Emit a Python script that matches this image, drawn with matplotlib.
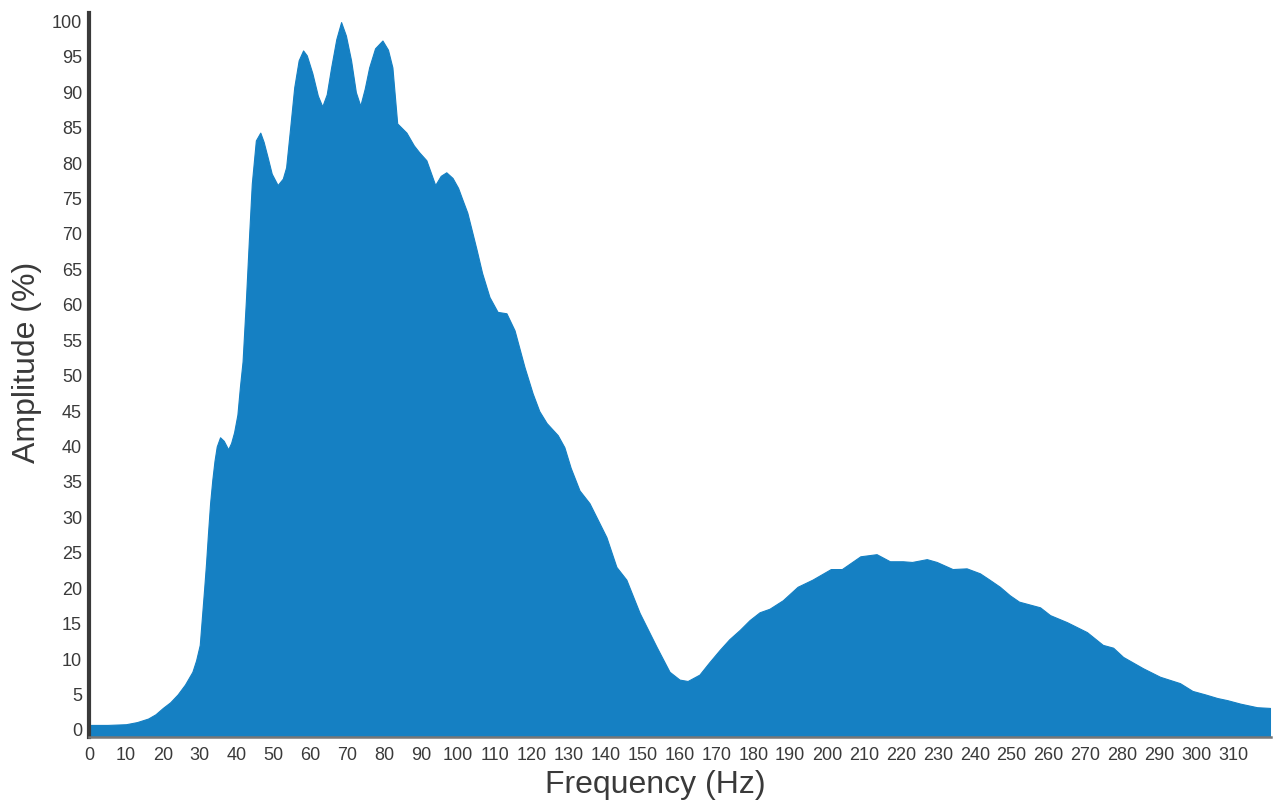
import numpy as np
import matplotlib
matplotlib.use('Agg')
from matplotlib import pyplot as plt

# spectrum (Hz, %)
freq = [0, 5, 10, 13, 16, 18, 20, 22, 24, 26, 28, 29, 30, 30.6, 31.2, 31.7,
        32.2, 32.8, 33.4, 34, 34.6, 35.5, 36.5, 37.7, 38.5, 39.3, 40.2, 40.9,
        41.6, 42.5, 43.4, 44.1, 45.2, 46.4, 47.3, 48.4, 49.5, 51.1, 52.5,
        53.4, 54.5, 55.6, 56.8, 58, 59, 60.5, 62, 63.2, 64.4, 65.6, 67, 68.3,
        69.6, 71, 72.3, 73.5, 74.7, 75.9, 77.5, 79.5, 81, 82.2, 83.5, 86, 88,
        89.5, 91.4, 92.5, 93.8, 95.3, 96.8, 98.5, 100, 101.2, 102.5, 103.9,
        105, 106.5, 108.5, 110.7, 113.1, 115.3, 118, 120.2, 122, 124, 127,
        128.8, 130.5, 132.9, 135.6, 138, 140.2, 142.9, 145.6, 149.2, 153.8,
        157.3, 160, 162.2, 165.4, 168, 170.9, 173.5, 176.3, 179, 181.7, 184.4,
        188, 192, 196, 201, 204, 206.5, 209, 213.4, 217, 220.5, 223, 227,
        229.7, 234, 237.8, 241.4, 244, 246.8, 249.5, 252, 257.7, 260.4, 265,
        270.4, 274.7, 277.5, 280.2, 285.6, 290.2, 295.6, 299, 302.5, 305.7,
        308.4, 312, 316.5, 320]
amp = [0.7, 0.7, 0.8, 1.1, 1.6, 2.2, 3.1, 3.9, 5.0, 6.4, 8.2, 9.8, 12.0, 16,
       20, 23.5, 27.5, 32, 35.3, 38, 40, 41.3, 40.8, 39.6, 40.5, 42, 44.5,
       48.5, 52, 60.6, 70.1, 77.1, 83.2, 84.3, 83, 80.8, 78.5, 76.9, 77.8,
       79.4, 85, 90.7, 94.5, 95.9, 95.2, 92.7, 89.5, 88, 89.7, 93.5, 97.5,
       99.9, 98, 94.5, 90, 88.1, 90.5, 93.5, 96.2, 97.3, 96, 93.5, 85.6, 84.3,
       82.5, 81.5, 80.4, 78.8, 76.9, 78.2, 78.7, 77.9, 76.5, 74.8, 73, 70.1,
       67.8, 64.5, 61.1, 59, 58.8, 56.4, 51.2, 47.5, 45, 43.3, 41.6, 39.9, 37,
       33.8, 32, 29.5, 27.2, 23, 21.2, 16.5, 11.7, 8.2, 7.1, 6.9, 7.8, 9.5,
       11.3, 12.8, 14.1, 15.5, 16.6, 17.1, 18.3, 20.2, 21.2, 22.7, 22.7, 23.6,
       24.5, 24.8, 23.8, 23.8, 23.7, 24.1, 23.7, 22.7, 22.8, 22.1, 21.2, 20.2,
       19, 18.1, 17.3, 16.2, 15.2, 13.8, 12, 11.6, 10.3, 8.7, 7.5, 6.6, 5.5,
       5, 4.5, 4.2, 3.7, 3.2, 3.1]

xticks = np.arange(0, 320, 10)
yticks = np.arange(0, 101, 5)

plt.rcParams['font.family'] = ['Liberation Sans', 'DejaVu Sans']

fig = plt.figure(figsize=(12.74, 8.05), dpi=100)
ax = fig.add_axes([0.0699, 0.0845, 0.9278, 0.8995])

ax.fill_between(freq, -1, amp, color='#1580c3', linewidth=0.8, edgecolor='#1580c3')

ax.set_xlim(0, 320.3)
ax.set_ylim(-1, 101.2)
ax.set_xticks(xticks)
ax.set_yticks(yticks)
ax.tick_params(axis='both', length=0, labelsize=13, colors='#3a3a3a')
ax.tick_params(axis='x', pad=7)
ax.tick_params(axis='y', pad=5)

for side in ['top', 'right']:
    ax.spines[side].set_visible(False)
ax.spines['left'].set_color('#3a3a3a')
ax.spines['left'].set_linewidth(3)
ax.spines['bottom'].set_color('#777777')
ax.spines['bottom'].set_linewidth(1.8)

ax.set_xlabel('Frequency (Hz)', fontsize=23, color='#3a3a3a', va='center')
ax.set_ylabel('Amplitude (%)', fontsize=23, color='#3a3a3a', va='center')
ax.xaxis.set_label_coords(0.479, -0.066)
ax.yaxis.set_label_coords(-0.0525, 0.518)

plt.savefig('out.png', dpi=100)
